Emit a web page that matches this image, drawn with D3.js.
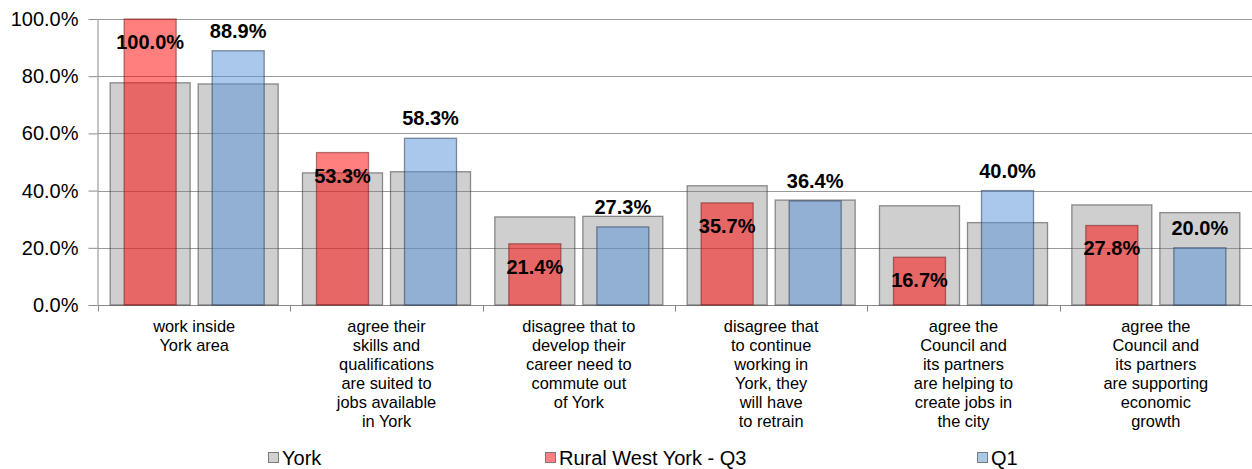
<!DOCTYPE html>
<html>
<head>
<meta charset="utf-8">
<script src="https://cdn.jsdelivr.net/npm/d3@7"></script>
<style>
  html, body { margin: 0; padding: 0; background: #fff; }
  svg { display: block; font-family: "Liberation Sans", Arial, sans-serif; }
</style>
</head>
<body>
<svg id="chart" width="1252" height="469"></svg>
<script>
const categories = [
  ["work inside", "York area"],
  ["agree their", "skills and", "qualifications", "are suited to", "jobs available", "in York"],
  ["disagree that to", "develop their", "career need to", "commute out", "of York"],
  ["disagree that", "to continue", "working in", "York, they", "will have", "to retrain"],
  ["agree the", "Council and", "its partners", "are helping to", "create jobs in", "the city"],
  ["agree the", "Council and", "its partners", "are supporting", "economic", "growth"]
];
const slots = ["Q3", "Q1"];
const yorkQ3 = [77.7, 46.2, 30.8, 41.7, 34.7, 35.0];
const yorkQ1 = [77.3, 46.6, 31.0, 36.7, 28.8, 32.3];
const ruralQ3 = [100.0, 53.3, 21.4, 35.7, 16.7, 27.8];
const ruralQ1 = [88.9, 58.3, 27.3, 36.4, 40.0, 20.0];
const yTicks = [0, 20, 40, 60, 80, 100];
const legendLabels = ["York", "Rural West York - Q3", "Q1"];

(function () {
const svg = d3.select("#chart");
const mLeft = 98, mRight = 1252, mTop = 19, mBottom = 305;
const catIdx = d3.range(categories.length);

const x = d3.scaleBand().domain(catIdx).range([mLeft, mRight]).paddingInner(0).paddingOuter(0);
const xs = d3.scaleBand().domain(slots).range([0, x.bandwidth()]).paddingInner(0.091).paddingOuter(0.138);
const y = d3.scaleLinear().domain([0, 100]).range([mBottom, mTop]);
const fmt = v => v.toFixed(1) + "%";

// gridlines
svg.append("g")
  .selectAll("line").data(yTicks.filter(t => t > 0)).join("line")
  .attr("x1", mLeft).attr("x2", mRight)
  .attr("y1", d => Math.round(y(d)) + 0.5).attr("y2", d => Math.round(y(d)) + 0.5)
  .attr("stroke", "#9a9a9a").attr("stroke-width", 1);

// y axis
const yAxis = svg.append("g").attr("transform", `translate(${mLeft - 0.5},0)`)
  .call(d3.axisLeft(y).tickValues(yTicks).tickFormat(d => d.toFixed(1) + "%").tickSizeOuter(0).tickSizeInner(9).tickPadding(10));
yAxis.select(".domain").attr("stroke", "#8a8a8a");
yAxis.selectAll(".tick line").attr("stroke", "#8a8a8a");
yAxis.selectAll(".tick text").attr("font-size", 20).attr("fill", "#000")
  .attr("font-family", "Liberation Sans, Arial, sans-serif");

// x axis
const xAxis = svg.append("g").attr("transform", `translate(0,${mBottom + 0.5})`);
xAxis.append("line").attr("x1", mLeft).attr("x2", mRight).attr("stroke", "#8a8a8a");
xAxis.selectAll("line.tk").data(d3.range(categories.length + 1)).join("line").attr("class", "tk")
  .attr("x1", d => Math.round(mLeft + d * x.step()) + 0.5).attr("x2", d => Math.round(mLeft + d * x.step()) + 0.5)
  .attr("y1", 0).attr("y2", 6).attr("stroke", "#8a8a8a");

// York (grey) bars
const yorkData = [];
catIdx.forEach(i => {
  yorkData.push({ i, s: "Q3", v: yorkQ3[i] });
  yorkData.push({ i, s: "Q1", v: yorkQ1[i] });
});
svg.append("g").selectAll("rect").data(yorkData).join("rect")
  .attr("x", d => x(d.i) + xs(d.s))
  .attr("width", xs.bandwidth())
  .attr("y", d => y(d.v))
  .attr("height", d => y(0) - y(d.v))
  .attr("fill", "rgba(130,130,130,0.38)")
  .attr("stroke", "rgba(60,60,60,0.55)").attr("stroke-width", 1.3);

// colored bars
const inset = 14;
const colData = [];
catIdx.forEach(i => {
  colData.push({ i, s: "Q3", v: ruralQ3[i], fill: "rgba(255,0,0,0.5)", stroke: "rgba(120,30,30,0.55)" });
  colData.push({ i, s: "Q1", v: ruralQ1[i], fill: "rgba(85,145,215,0.5)", stroke: "rgba(40,60,90,0.55)" });
});
svg.append("g").selectAll("rect").data(colData).join("rect")
  .attr("x", d => x(d.i) + xs(d.s) + inset)
  .attr("width", xs.bandwidth() - 2 * inset)
  .attr("y", d => y(d.v))
  .attr("height", d => y(0) - y(d.v))
  .attr("fill", d => d.fill)
  .attr("stroke", d => d.stroke).attr("stroke-width", 1.3);

// data labels
svg.append("g").selectAll("text").data(colData).join("text")
  .attr("x", d => x(d.i) + xs(d.s) + xs.bandwidth() / 2)
  .attr("y", d => d.s === "Q3" ? y(d.v) + 30 : y(d.v) - 13)
  .attr("text-anchor", "middle")
  .attr("font-size", 20).attr("font-weight", "bold").attr("fill", "#000")
  .text(d => fmt(d.v));

// category labels
const cl = svg.append("g").selectAll("text").data(catIdx).join("text")
  .attr("text-anchor", "middle").attr("font-size", 16.4).attr("fill", "#000");
cl.each(function(i) {
  const t = d3.select(this);
  categories[i].forEach((line, k) => {
    t.append("tspan").attr("x", x(i) + x.bandwidth() / 2).attr("y", 332 + k * 19).text(line);
  });
});

// legend
const legX = [268, 545, 977];
const legFill = ["#d0d0d0", "#ff8080", "#aac8e8"];
const leg = svg.append("g").selectAll("g").data(legendLabels).join("g")
  .attr("transform", (d, k) => `translate(${legX[k]},452)`);
leg.append("rect").attr("x", 0.5).attr("y", 0.5).attr("width", 10).attr("height", 10)
  .attr("fill", (d, k) => legFill[k]).attr("stroke", "#7a7a7a").attr("stroke-width", 1);
leg.append("text").attr("x", 14).attr("y", 13).attr("font-size", 20).attr("fill", "#000").text(d => d);
})();
</script>
</body>
</html>
